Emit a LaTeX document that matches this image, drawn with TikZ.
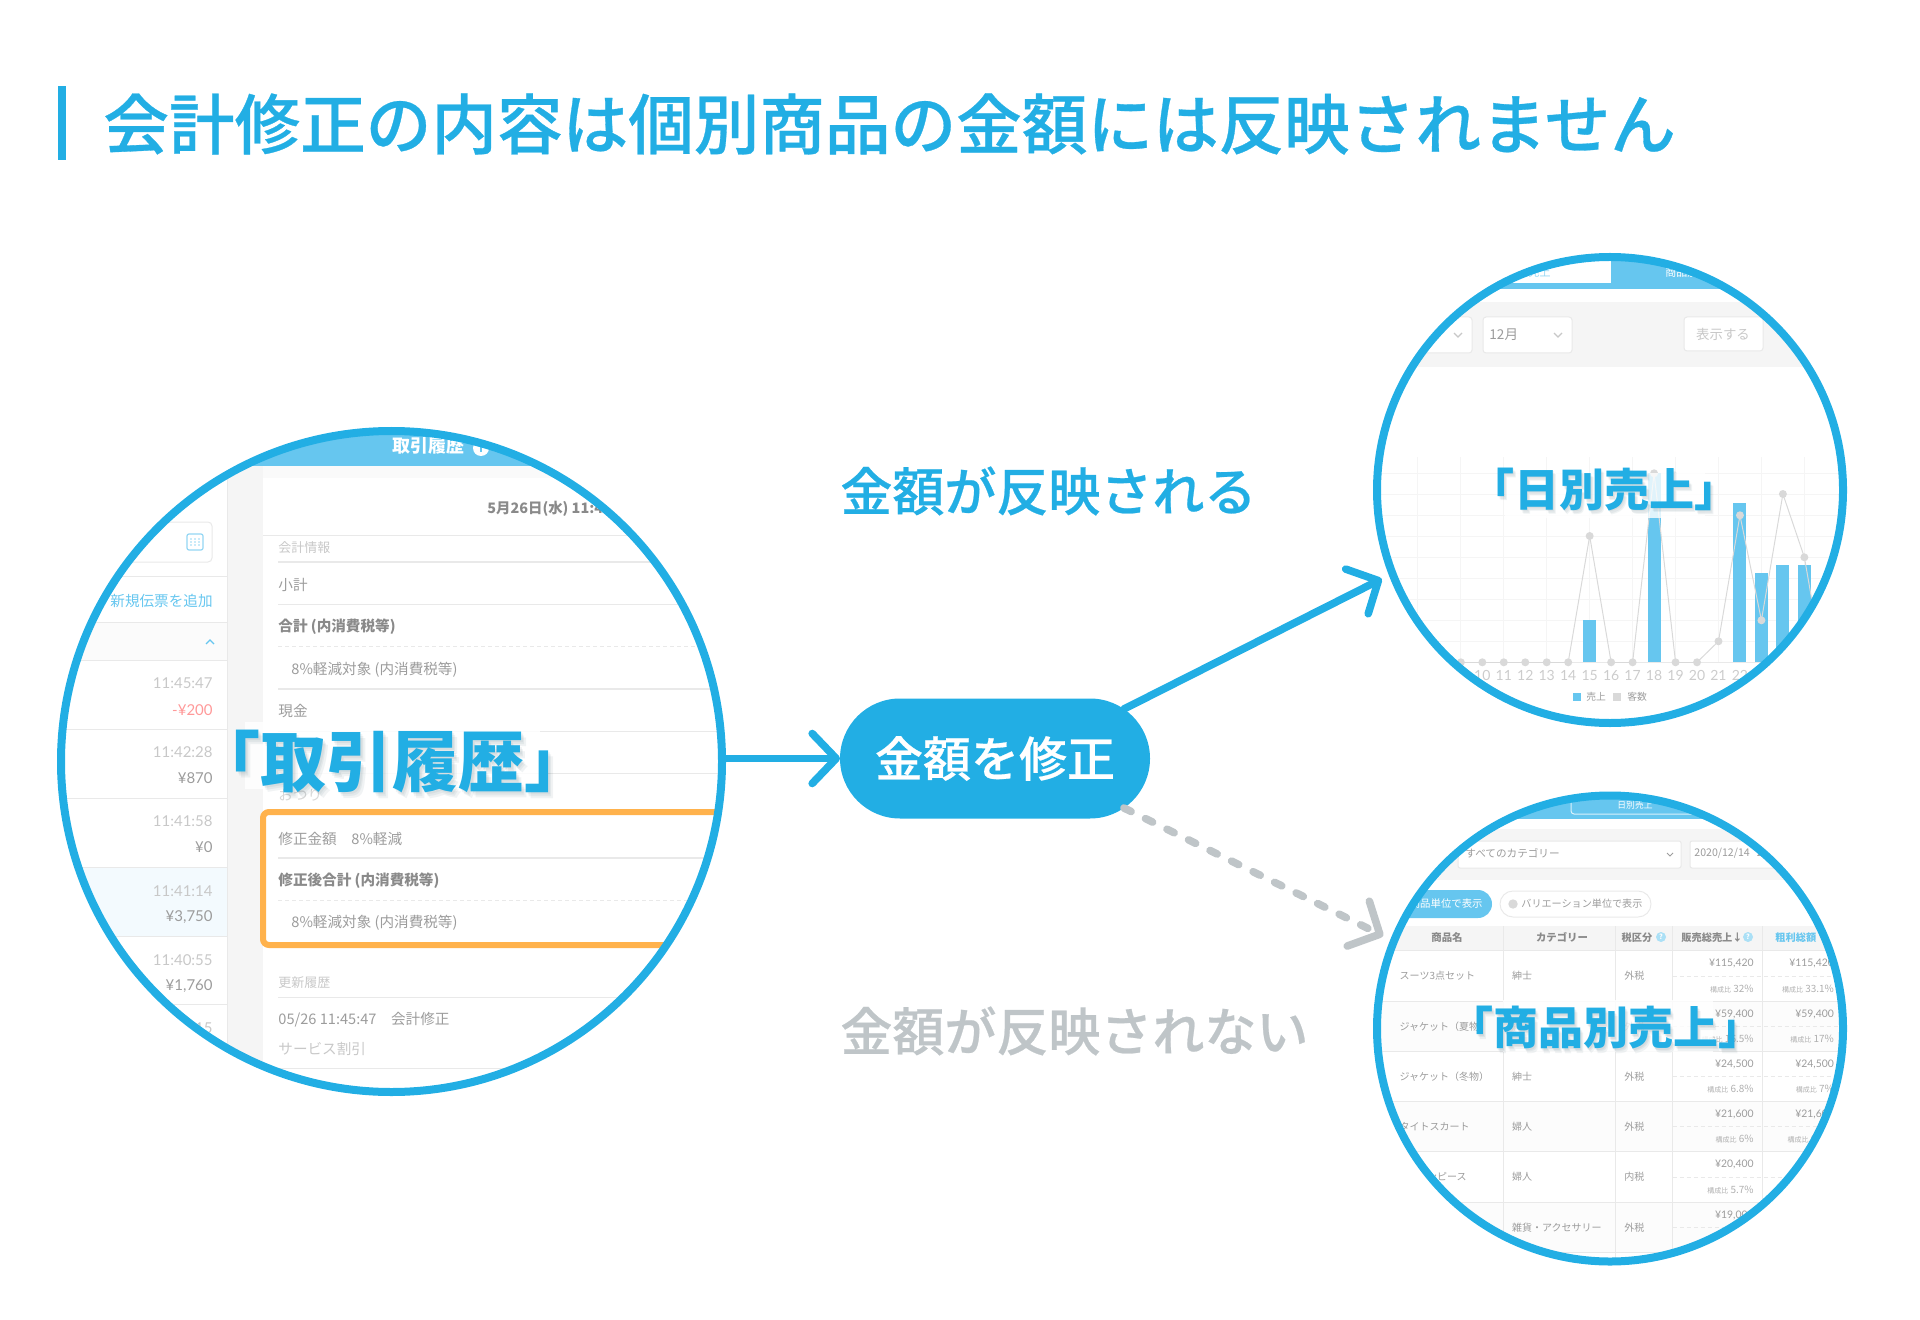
\documentclass[tikz,border=0pt]{standalone}
\usepackage{fontspec}
\setmainfont{Noto Sans CJK JP}
\newfontfamily\latofont{Lato}
\newfontfamily\medfont[FakeBold=0.45]{Noto Sans CJK JP Medium}
\usetikzlibrary{arrows.meta,shapes.misc}
\definecolor{mainblue}{HTML}{22AEE4}
\definecolor{tabblue}{HTML}{66C6EF}
\definecolor{softgray}{HTML}{BFC5C8}
\definecolor{markorange}{HTML}{FFB24C}
\definecolor{bodygray}{HTML}{9C9C9C}
\definecolor{boldgray}{HTML}{8A8A8A}
\definecolor{paleline}{HTML}{E9E9E9}
\definecolor{paletext}{HTML}{C8C8C8}
\definecolor{panelgray}{HTML}{F5F5F5}
\tikzset{
    fs/.style={font=\fontsize{#1}{#1}\selectfont},
    fsb/.style={font=\fontsize{#1}{#1}\selectfont\bfseries},
    fsm/.style={font=\fontsize{#1}{#1}\selectfont\medfont},
    fst/.style={font=\fontsize{#1}{#1}\selectfont\latofont},
    uitext/.style={inner sep=0pt, execute at begin node={\vphantom{\rmfamily 国}}},
    hair/.style={draw=paleline, line width=.5pt},
    thickhair/.style={draw=paleline, line width=1pt},
    dashhair/.style={draw=paleline, line width=.5pt, dash pattern=on 2pt off 1.5pt},
    ring/.style={circle, draw=mainblue, line width=4pt, inner sep=0pt, outer sep=0pt},
    biglabel/.style={uitext, text=mainblue},
    blurshade/.style={uitext, text=black!70!mainblue, text opacity=.06},
    arrowline/.style={line width=3.8pt, line cap=round, -{Straight Barb[length=12pt,width=25pt,round]}},
}
\begin{document}
\begin{tikzpicture}[x=.5pt,y=-.5pt]
    \useasboundingbox (0,0) rectangle (1920,1320);
    % title
    \fill[mainblue] (58,86) rectangle (66,160);
    \node[uitext, fsm=32.8, text=mainblue, anchor=west] (titletext) at (103,124) {会計修正の内容は個別商品の金額には反映されません};

    % left screenshot
    \begin{scope}
        \clip (391.5,761.5) circle (330.5);
        \fill[panelgray] (227,466) rectangle (263,1100);
        \fill[panelgray!50] (263,466) rectangle (730,478);
        \fill[tabblue] (50,420) rectangle (730,466);
        \node[uitext, fsb=9, text=white] (histhead) at (428,446) {取引履歴};
        \fill[white] (481,448) circle (8);
        \fill[tabblue] (480,444) rectangle (482,452);
        \draw[hair] (227,466) -- (227,1100);
        \draw[hair, fill=white, rounded corners=2pt] (40,522) rectangle (212,562);
        \draw[tabblue!70, line width=.6pt, rounded corners=1pt] (187,534) rectangle (203,550);
        \foreach \cx in {191,195,199} \foreach \cy in {539,542,545} \fill[tabblue!70] (\cx,\cy) circle (.8);
        \draw[hair] (40,576.5) -- (227,576.5);
        \node[uitext, fs=7.3, text=tabblue, anchor=east] (addslip) at (213,601) {新規伝票を追加};
        \fill[panelgray!40] (40,622.5) rectangle (227,660.5);
        \draw[hair] (40,622.5) -- (227,622.5);
        \draw[tabblue, line width=.6pt] (206,644) -- (210,640) -- (214,644);
        \fill[tabblue!8] (40,867) rectangle (227,936);
        \draw[hair] (40,660.5) -- (227,660.5);
        \foreach \y in {729.6,798.4,867,936,1004.6} \draw[hair] (40,\y) -- (227,\y);
        \foreach \t/\a/\y in {11:45:47/{}/683, 11:42:28/{¥870}/752, 11:41:58/{¥0}/821, 11:41:14/{¥3,750}/891, 11:40:55/{¥1,760}/960, 11:40:15/{}/1028} {
            \node[uitext, fst=7.5, text=paletext, anchor=east] at (213,\y) {\t};
            \node[uitext, fst=7.5, text=bodygray, anchor=east] at (213,\y+26) {\a};
        }
        \node[uitext, fst=7.5, text=red!40!white, anchor=east] at (213,710) {-¥200};
        \node[uitext, fsb=7.2, text=boldgray, anchor=west] at (487,509) {5月26日(水) 11:45};
        \draw[hair] (263,535.5) -- (730,535.5);
        \node[uitext, fs=6.5, text=paletext, anchor=west] at (278,548) {会計情報};
        \draw[thickhair] (278,562) -- (730,562);
        \node[uitext, fs=7.3, text=bodygray, anchor=west] at (278,585) {小計};
        \draw[hair] (278,604.6) -- (730,604.6);
        \node[uitext, fsb=7.3, text=boldgray, anchor=west] at (278,627) {合計 (内消費税等)};
        \draw[dashhair] (278,646.6) -- (730,646.6);
        \node[uitext, fs=7.3, text=bodygray, anchor=west] at (291,669.5) {8\%軽減対象 (内消費税等)};
        \draw[thickhair] (278,689) -- (730,689);
        \node[uitext, fs=7.3, text=bodygray, anchor=west] at (278,711) {現金};
        \draw[hair] (278,731) -- (730,731);
        \draw[hair] (278,773) -- (730,773);
        \node[uitext, fs=7.3, text=paletext!70, anchor=west] at (278,795) {おつり};
        \node[uitext, fs=7.3, text=bodygray, anchor=west] at (278,838.5) {修正金額\quad 8\%軽減};
        \draw[thickhair] (278,858) -- (730,858);
        \node[uitext, fsb=7.3, text=boldgray, anchor=west] at (278,881) {修正後合計 (内消費税等)};
        \draw[dashhair] (278,900) -- (730,900);
        \node[uitext, fs=7.3, text=bodygray, anchor=west] at (291,923) {8\%軽減対象 (内消費税等)};
        \draw[markorange, line width=3pt, rounded corners=3pt] (263,812) rectangle (760,945);
        \node[uitext, fs=6.5, text=paletext, anchor=west] at (278,983) {更新履歴};
        \draw[hair] (278,997.5) -- (730,997.5);
        \node[uitext, fs=7.3, text=bodygray, anchor=west] at (278,1020) {05/26 11:45:47\quad 会計修正};
        \node[uitext, fs=7.3, text=paletext, anchor=west] at (278,1048.5) {サービス割引};
        \draw[hair] (278,1068.5) -- (730,1068.5);
    \end{scope}
    \fill[white, opacity=.85] (245,722) rectangle (540,789);
    \foreach \dx/\dy in {1.5/2,3/4,4.5/6} \node[blurshade, fsb=33] at (392.7+\dx,761.8+\dy) {「取引履歴」};
    \node[biglabel, fsb=33] (histlabel) at (392.7,761.8) {「取引履歴」};
    \node[ring, minimum size=330.5pt] (histcircle) at (391.5,761.5) {};

    % daily chart
    \begin{scope}
        \clip (1610,490) circle (233);
        \fill[tabblue] (1370,283) rectangle (1850,289);
        \fill[tabblue] (1610.7,250) rectangle (1850,283);
        \node[uitext, fs=5.5, text=tabblue!70, anchor=east] at (1551,272) {日別売上};
        \node[uitext, fs=5.5, text=white, anchor=west] at (1665,272) {商品別売上};
        \fill[panelgray] (1370,302) rectangle (1850,367);
        \draw[hair, fill=white, rounded corners=1.5pt] (1370,317) rectangle (1472,353);
        \draw[hair, fill=white, rounded corners=1.5pt] (1483,317) rectangle (1572,353);
        \draw[hair, fill=white, rounded corners=1.5pt] (1684,317) rectangle (1763,351);
        \draw[paletext, line width=.6pt] (1454,333) -- (1458,337) -- (1462,333);
        \draw[paletext, line width=.6pt] (1554,333) -- (1558,337) -- (1562,333);
        \node[uitext, fs=6.8, text=bodygray, anchor=west] at (1489,335) {12月};
        \node[uitext, fs=6.7, text=paletext] (showbtn) at (1723,334) {表示する};
        \foreach \y in {473.3,494.3,515.3,536.3,557.3,578.3,599.3,620.3,641.3} \draw[panelgray, line width=.5pt] (1370,\y) -- (1850,\y);
        \foreach \d in {7,9,...,25} \draw[panelgray, line width=.5pt] ({1482.3+(\d-10)*21.47},456.7) -- ({1482.3+(\d-10)*21.47},662.3);
        \draw[paleline, line width=.5pt] (1370,662.3) -- (1850,662.3);
        \foreach \d/\v in {15/620.3,18/473.3,22/502.7,23/573.3,24/564.7,25/564.7}
            \fill[tabblue] ({1482.3+(\d-10)*21.47-6.5},\v) rectangle ({1482.3+(\d-10)*21.47+6.5},662.3);
        \foreach \d/\v [remember=\d as \pd (initially 8), remember=\v as \pv (initially 662.3)] in {9/662.3,10/662.3,11/662.3,12/662.3,13/662.3,14/662.3,15/536,16/662.3,17/662.3,18/473.3,19/662.3,20/662.3,21/641.3,22/515.3,23/620.3,24/494,25/557.3,26/680} {
            \draw[black!15, line width=.5pt] ({1482.3+(\pd-10)*21.47},\pv) -- ({1482.3+(\d-10)*21.47},\v);
            \fill[black!15] ({1482.3+(\d-10)*21.47},\v) circle (4);
        }
        \foreach \d in {9,...,22} \node[uitext, fst=7, text=black!20] at ({1482.3+(\d-10)*21.47},675) {\d};
        \fill[tabblue] (1573,693) rectangle (1581,701);
        \node[uitext, fs=4.9, text=bodygray, anchor=west] at (1586,697) {売上};
        \fill[black!15] (1613,693) rectangle (1621,701);
        \node[uitext, fs=4.9, text=bodygray, anchor=west] at (1627,697) {客数};
    \end{scope}
    \fill[white, opacity=.8] (1505,473) rectangle (1705,518);
    \foreach \dx/\dy in {1/1.5,2/3,3/4.5} \node[blurshade, fsb=22.5] at (1604+\dx,489.3+\dy) {「日別売上」};
    \node[biglabel, fsb=22.5] (daylabel) at (1604,489.3) {「日別売上」};
    \node[ring, minimum size=233pt] (daycircle) at (1610,490) {};

    % product table
    \begin{scope}
        \clip (1610,1028.5) circle (233);
        \fill[tabblue] (1370,790) rectangle (1850,819);
        \draw[white!75!tabblue, line width=.5pt, rounded corners=1.5pt] (1571,790) -- (1571,814) -- (1710,814) -- (1710,790);
        \node[uitext, fs=4.4, text=white] at (1635,805) {日別売上};
        \fill[panelgray] (1370,829) rectangle (1850,880);
        \draw[hair, fill=white, rounded corners=1pt] (1458,841) rectangle (1681,868);
        \draw[hair, fill=white, rounded corners=1pt] (1690,841) rectangle (1860,868);
        \node[uitext, fs=5.3, text=bodygray, anchor=west] at (1465,853) {すべてのカテゴリー};
        \draw[bodygray, line width=.4pt] (1667,853) -- (1670,856) -- (1673,853);
        \node[uitext, fs=5.3, text=bodygray, anchor=west] at (1694,853) {2020/12/14 ~ 2020/12/20};
        \fill[tabblue, rounded corners=7pt] (1370,890) rectangle (1492,918);
        \node[uitext, fs=5.2, text=white, anchor=east] at (1483,904) {商品単位で表示};
        \draw[hair, rounded corners=6.5pt] (1500,891) rectangle (1651,917);
        \fill[black!15] (1513,904) circle (4.7);
        \node[uitext, fs=5.05, text=bodygray, anchor=west] at (1521,904) {バリエーション単位で表示};
        \fill[panelgray] (1370,926) rectangle (1850,951);
        \foreach \y in {1001,1101.3,1202} \fill[panelgray!30] (1370,\y) rectangle (1850,\y+50.3);
        \foreach \x in {1503.7,1615.7,1672.7,1762.7} \draw[hair] (\x,926) -- (\x,1270);
        \foreach \y in {950.7,1001,1051.3,1101.3,1151.7,1202,1252.3} \draw[hair] (1370,\y) -- (1850,\y);
        \node[uitext, fsb=5.2, text=boldgray] at (1447,937.5) {商品名};
        \node[uitext, fsb=5.2, text=boldgray] at (1562,937.5) {カテゴリー};
        \node[uitext, fsb=5.1, text=boldgray] at (1637,937.5) {税区分};
        \node[circle, fill=tabblue!55, minimum size=5pt, inner sep=0pt, text=white, fsb=3.5] at (1661,937) {?};
        \node[uitext, fsb=5.1, text=boldgray, anchor=west] at (1681,937.5) {販売総売上↓};
        \node[circle, fill=tabblue!55, minimum size=5pt, inner sep=0pt, text=white, fsb=3.5] at (1748,937) {?};
        \node[uitext, fsb=5.1, text=tabblue, anchor=west] at (1775,937.5) {粗利総額};
        \foreach \y/\pname/\pcat/\ptax/\psale/\prate in {976/スーツ3点セット/紳士/外税/{¥115,420}/32\%, 1026.3/ジャケット（夏物）/紳士/外税/{¥59,400}/16.5\%, 1076.3/ジャケット（冬物）/紳士/外税/{¥24,500}/6.8\%, 1126.7/タイトスカート/婦人/外税/{¥21,600}/6\%, 1177/{}/婦人/内税/{¥20,400}/5.7\%, 1227.3/{}/雑貨・アクセサリー/外税/{¥19,000}/5.3\%} {
            \draw[dashhair] (1672.7,\y) -- (1850,\y);
            \node[uitext, fs=5, text=bodygray, anchor=west] at (1399.3,\y) {\pname};
            \node[uitext, fs=5, text=bodygray, anchor=west] at (1511.7,\y) {\pcat};
            \node[uitext, fs=5, text=bodygray, anchor=west] at (1624,\y) {\ptax};
            \node[uitext, fst=5.2, text=bodygray, anchor=east] at (1754,\y-12.7) {\psale};
            \node[uitext, fs=5, text=bodygray!80, anchor=east] at (1754,\y+12.6) {{\fontsize{3.5}{4}\selectfont 構成比} \prate};
        }
        \node[uitext, fs=5, text=bodygray, anchor=east] at (1467,1177) {ワンピース};
        \foreach \y/\psale/\prate in {976/{¥115,420}/33.1\%, 1026.3/{¥59,400}/17\%, 1076.3/{¥24,500}/7\%, 1126.7/{¥21,600}/6.1\%} {
            \node[uitext, fst=5.2, text=bodygray, anchor=east] at (1834.3,\y-12.7) {\psale};
            \node[uitext, fs=5, text=bodygray!80, anchor=east] at (1834.3,\y+12.6) {{\fontsize{3.5}{4}\selectfont 構成比} \prate};
        }
    \end{scope}
    \fill[white, opacity=.8] (1503,1000) rectangle (1713,1052);
    \foreach \dx/\dy in {1/1.5,2/3,3/4.5} \node[blurshade, fsb=22.5] at (1605.8+\dx,1027.7+\dy) {「商品別売上」};
    \node[biglabel, fsb=22.5] (prodlabel) at (1605.8,1027.7) {「商品別売上」};
    \node[ring, minimum size=233pt] (prodcircle) at (1610,1028.5) {};

    % centre
    \node[rounded rectangle, fill=mainblue, text=white, fsm=24, minimum width=155pt, minimum height=60pt, inner sep=0pt, outer sep=0pt] (fixpill) at (995,758.5) {金額を修正};
    \node[uitext, fsm=26, text=mainblue, anchor=west] (yeslabel) at (840,491) {金額が反映される};
    \node[uitext, fsm=26, text=softgray, anchor=west] (nolabel) at (840,1031) {金額が反映されない};
    \draw[arrowline, mainblue] (fixpill -| histcircle.east) -- (fixpill.west);
    \draw[arrowline, mainblue, shorten >=6pt] (fixpill.21) -- (daycircle.201.7);
    \draw[arrowline, softgray, shorten >=6pt, dash pattern=on 4pt off 8pt] (fixpill.-21) -- (prodcircle.158.7);
\end{tikzpicture}
\end{document}
